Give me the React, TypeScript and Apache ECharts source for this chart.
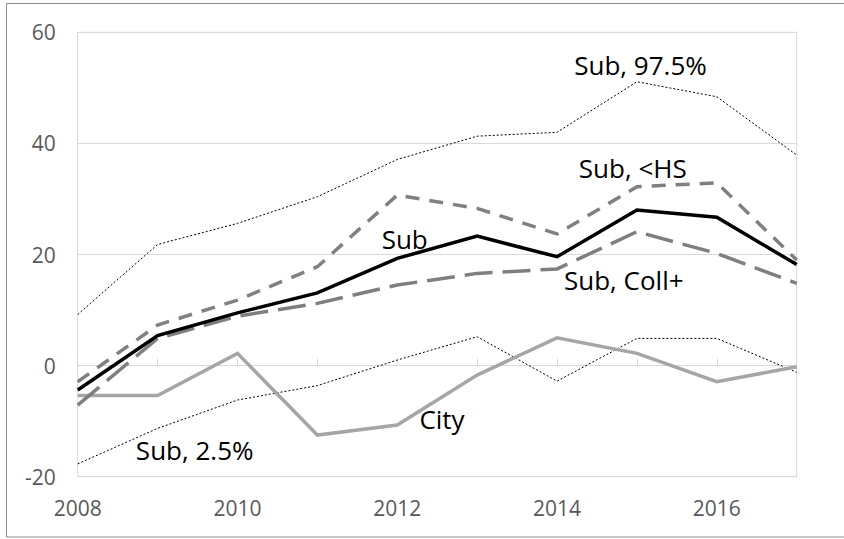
import React, { useEffect, useRef } from "react";
import * as echarts from "echarts";

const years = ["2008", "2009", "2010", "2011", "2012", "2013", "2014", "2015", "2016", "2017"];
const yTicks = { min: -20, max: 60, interval: 20 };

const sub = [-4.4, 5.4, 9.5, 13.1, 19.3, 23.3, 19.6, 28.0, 26.7, 18.2];
const subHS = [-2.9, 7.3, 11.8, 17.8, 30.7, 28.3, 23.7, 32.2, 32.9, 19.0];
const subColl = [-7.1, 4.9, 8.9, 11.2, 14.5, 16.6, 17.4, 24.1, 20.2, 14.8];
const city = [-5.4, -5.4, 2.2, -12.5, -10.7, -1.7, 5.0, 2.2, -2.9, -0.2];
const sub975 = [9.2, 21.8, 25.6, 30.4, 37.1, 41.3, 42.0, 51.1, 48.4, 37.9];
const sub25 = [-17.7, -11.3, -6.2, -3.6, 1.0, 5.2, -2.8, 4.9, 4.9, -1.2];

const seriesLabels = ["Sub, 97.5%", "Sub, <HS", "Sub", "Sub, Coll+", "City", "Sub, 2.5%"];

const FONT = "'Open Sans', 'Noto Sans', sans-serif";

export default function App() {
  const ref = useRef<HTMLDivElement>(null);

  useEffect(() => {
    if (!ref.current) return;
    const chart = echarts.init(ref.current, null, { renderer: "svg" });

    const labelPos: [number, number][] = [
      [640.5, 64.5],
      [632.8, 167.5],
      [404.7, 239.2],
      [623.8, 280],
      [442, 419.2],
      [194.7, 449.7],
    ];

    const line = (name: string, data: number[], color: string, width: number, type: any, z: number) => ({
      name,
      type: "line",
      data,
      symbol: "none",
      smooth: false,
      z,
      lineStyle: { color, width, type, cap: "butt", join: "miter" },
    });

    chart.setOption({
      animation: false,
      backgroundColor: "#ffffff",
      grid: {
        left: 77.7,
        right: 47.3,
        top: 32.3,
        bottom: 62.3,
        show: true,
        borderColor: "#d9d9d9",
        borderWidth: 1,
        backgroundColor: "transparent",
      },
      xAxis: {
        type: "category",
        data: years,
        boundaryGap: false,
        axisLine: { show: true, lineStyle: { color: "#d9d9d9", width: 1 } },
        axisTick: { show: true, interval: 0, inside: true, length: 7, lineStyle: { color: "#d9d9d9", width: 1 } },
        axisLabel: { interval: 1, fontSize: 21, color: "#595959", margin: 21, fontFamily: FONT },
        splitLine: { show: false },
      },
      yAxis: {
        type: "value",
        min: yTicks.min,
        max: yTicks.max,
        interval: yTicks.interval,
        axisLine: { show: false },
        axisTick: { show: false },
        axisLabel: { fontSize: 21, color: "#595959", margin: 22, fontFamily: FONT },
        splitLine: { show: true, lineStyle: { color: "#d9d9d9", width: 1 } },
      },
      series: [
        line("Sub, 97.5%", sub975, "#000000", 1, [2, 2], 2),
        line("Sub, 2.5%", sub25, "#000000", 1, [2, 2], 2),
        line("City", city, "#a6a6a6", 3.5, "solid", 3),
        line("Sub, Coll+", subColl, "#7f7f7f", 3.5, [28, 10], 4),
        line("Sub, <HS", subHS, "#808080", 3.5, [14, 10], 5),
        line("Sub", sub, "#000000", 3.5, "solid", 6),
      ],
      graphic: [
        {
          type: "rect",
          shape: { x: 6.5, y: 3.5, width: 860, height: 533.5 },
          style: { fill: "none", stroke: "#8c8c8c", lineWidth: 1 },
          silent: true,
          z: 100,
        },
        ...seriesLabels.map((t, i) => ({
          type: "text",
          x: labelPos[i][0],
          y: labelPos[i][1],
          style: {
            text: t,
            fill: "#000000",
            font: `26px ${FONT}`,
            textAlign: "center",
            textVerticalAlign: "middle",
          },
          z: 100,
        })),
      ],
    });

    return () => chart.dispose();
  }, []);

  return (
    <div
      ref={ref}
      style={{ position: "absolute", left: 0, top: 0, width: 844, height: 539 }}
    />
  );
}
